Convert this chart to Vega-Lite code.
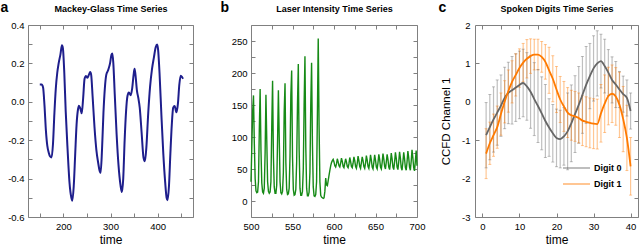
{
  "$schema": "https://vega.github.io/schema/vega-lite/v6.json",
  "autosize": {"type": "pad"},
  "padding": 0,
  "background": "white",
  "spacing": 58,
  "bounds": "flush",
  "config": {
    "font": "Liberation Sans",
    "view": {"stroke": null},
    "axis": {"grid": false, "domain": true, "domainColor": "#808080", "domainWidth": 1, "ticks": true, "tickSize": -4, "tickColor": "#808080", "tickWidth": 1,
      "labelOverlap": false, "labelFlush": false, "labelBound": false,
      "labelFont": "Liberation Sans", "labelFontSize": 9.5, "labelColor": "black",
      "titleFont": "Liberation Sans", "titleFontSize": 12, "titleFontWeight": "normal", "titleColor": "black"},
    "axisBottom": {"labelPadding": 8.5, "titleBaseline": "bottom", "titleY": 29.5},
    "axisLeft": {"labelPadding": 8},
    "axisTop": {"titleFontSize": 9, "titleFontWeight": "bold", "titleBaseline": "alphabetic", "titleY": -14, "titleAlign": "center"},
    "axisRight": {"titleFontSize": 14, "titleFontWeight": "bold", "titleAngle": 0, "titleAlign": "left", "titleBaseline": "top", "titleY": -25}
  },
  "datasets": {
    "mg": [
      {"t":150,"v":0.09},{"t":154,"v":0.09},{"t":157,"v":0.075},{"t":160,"v":-0.02},{"t":163,"v":-0.15},{"t":166,"v":-0.23},{"t":169,"v":-0.265},{"t":172,"v":-0.285},{"t":175,"v":-0.29},{"t":178,"v":-0.22},{"t":181,"v":-0.06},{"t":184,"v":0.07},{"t":187,"v":0.15},{"t":190,"v":0.2},{"t":194,"v":0.25},{"t":197,"v":0.295},{"t":199,"v":0.28},{"t":202,"v":0.15},{"t":205,"v":-0.05},{"t":209,"v":-0.25},{"t":213,"v":-0.42},{"t":217,"v":-0.5},{"t":219,"v":-0.515},{"t":222,"v":-0.44},{"t":225,"v":-0.28},{"t":228,"v":-0.12},{"t":231,"v":-0.04},{"t":233,"v":-0.02},{"t":236,"v":-0.035},{"t":239,"v":-0.06},{"t":242,"v":0.02},{"t":245,"v":0.12},{"t":248,"v":0.135},{"t":251,"v":0.125},{"t":254,"v":0.14},{"t":257,"v":0.155},{"t":259,"v":0.14},{"t":262,"v":0.03},{"t":266,"v":-0.13},{"t":270,"v":-0.25},{"t":274,"v":-0.32},{"t":277,"v":-0.36},{"t":279,"v":-0.37},{"t":282,"v":-0.25},{"t":285,"v":-0.06},{"t":288,"v":0.07},{"t":291,"v":0.14},{"t":295,"v":0.165},{"t":299,"v":0.2},{"t":302,"v":0.245},{"t":304,"v":0.252},{"t":306,"v":0.2},{"t":309,"v":0.04},{"t":313,"v":-0.17},{"t":317,"v":-0.33},{"t":321,"v":-0.43},{"t":324,"v":-0.47},{"t":327,"v":-0.4},{"t":330,"v":-0.2},{"t":333,"v":-0.05},{"t":336,"v":0.03},{"t":339,"v":0.048},{"t":343,"v":0.034},{"t":346,"v":0.07},{"t":349,"v":0.14},{"t":351,"v":0.172},{"t":353,"v":0.14},{"t":356,"v":0.06},{"t":359,"v":0.02},{"t":362,"v":-0.03},{"t":366,"v":-0.16},{"t":370,"v":-0.29},{"t":373,"v":-0.31},{"t":376,"v":-0.24},{"t":380,"v":-0.06},{"t":384,"v":0.08},{"t":388,"v":0.17},{"t":392,"v":0.23},{"t":396,"v":0.285},{"t":399,"v":0.298},{"t":401,"v":0.27},{"t":404,"v":0.15},{"t":408,"v":-0.07},{"t":412,"v":-0.27},{"t":416,"v":-0.42},{"t":419,"v":-0.5},{"t":421,"v":-0.513},{"t":424,"v":-0.44},{"t":427,"v":-0.27},{"t":430,"v":-0.12},{"t":433,"v":-0.03},{"t":436,"v":-0.022},{"t":440,"v":-0.055},{"t":443,"v":-0.01},{"t":446,"v":0.09},{"t":449,"v":0.136},{"t":452,"v":0.128},{"t":454,"v":0.12}
    ],
    "laser": [
      {"t":500,"v":30},{"t":501,"v":85},{"t":502,"v":140},{"t":503,"v":165},{"t":504,"v":90},{"t":505,"v":35},{"t":506,"v":16},{"t":507,"v":13},{"t":508,"v":14},{"t":509,"v":30},
      {"t":510,"v":110},{"t":511,"v":175},{"t":512,"v":80},{"t":513,"v":28},{"t":514,"v":14},{"t":515,"v":12},{"t":516,"v":20},{"t":517,"v":75},{"t":518,"v":166},{"t":519,"v":95},
      {"t":520,"v":30},{"t":521,"v":15},{"t":522,"v":12},{"t":523,"v":14},{"t":524,"v":30},{"t":525,"v":115},{"t":526,"v":188},{"t":527,"v":70},{"t":528,"v":22},{"t":529,"v":12},
      {"t":530,"v":12},{"t":531,"v":25},{"t":532,"v":95},{"t":533,"v":173},{"t":534,"v":100},{"t":535,"v":30},{"t":536,"v":13},{"t":537,"v":11},{"t":538,"v":15},{"t":539,"v":45},
      {"t":540,"v":140},{"t":541,"v":184},{"t":542,"v":60},{"t":543,"v":18},{"t":544,"v":10},{"t":545,"v":11},{"t":546,"v":20},{"t":547,"v":70},{"t":548,"v":165},{"t":549,"v":204},
      {"t":550,"v":70},{"t":551,"v":18},{"t":552,"v":9},{"t":553,"v":10},{"t":554,"v":18},{"t":555,"v":60},{"t":556,"v":150},{"t":557,"v":214},{"t":558,"v":80},{"t":559,"v":20},
      {"t":560,"v":9},{"t":561,"v":9},{"t":562,"v":15},{"t":563,"v":50},{"t":564,"v":150},{"t":565,"v":226},{"t":566,"v":85},{"t":567,"v":20},{"t":568,"v":8},{"t":569,"v":8},
      {"t":570,"v":14},{"t":571,"v":45},{"t":572,"v":150},{"t":573,"v":216},{"t":574,"v":90},{"t":575,"v":22},{"t":576,"v":8},{"t":577,"v":7},{"t":578,"v":10},{"t":579,"v":30},
      {"t":580,"v":135},{"t":581,"v":254},{"t":582,"v":120},{"t":583,"v":30},{"t":584,"v":9},{"t":585,"v":6},{"t":586,"v":5},{"t":587,"v":4},{"t":588,"v":5},{"t":589,"v":15},
      {"t":590,"v":36},{"t":591,"v":25},{"t":592,"v":24},{"t":593,"v":32},{"t":594,"v":40},{"t":595,"v":48},{"t":596,"v":55},{"t":597,"v":60},{"t":598,"v":63},{"t":599,"v":65},
      {"t":600,"v":61},{"t":601,"v":55},{"t":602,"v":53},{"t":603,"v":58},{"t":604,"v":66},{"t":605,"v":61},{"t":606,"v":55},{"t":607,"v":53},{"t":608,"v":59},{"t":609,"v":67},
      {"t":610,"v":62},{"t":611,"v":54},{"t":612,"v":52},{"t":613,"v":59},{"t":614,"v":66},{"t":615,"v":61},{"t":616,"v":54},{"t":617,"v":52},{"t":618,"v":58},{"t":619,"v":68},
      {"t":620,"v":62},{"t":621,"v":54},{"t":622,"v":52},{"t":623,"v":59},{"t":624,"v":69},{"t":625,"v":63},{"t":626,"v":54},{"t":627,"v":51},{"t":628,"v":59},{"t":629,"v":70},
      {"t":630,"v":63},{"t":631,"v":54},{"t":632,"v":51},{"t":633,"v":60},{"t":634,"v":69},{"t":635,"v":63},{"t":636,"v":54},{"t":637,"v":51},{"t":638,"v":59},{"t":639,"v":71},
      {"t":640,"v":64},{"t":641,"v":54},{"t":642,"v":51},{"t":643,"v":60},{"t":644,"v":72},{"t":645,"v":64},{"t":646,"v":53},{"t":647,"v":50},{"t":648,"v":60},{"t":649,"v":72},
      {"t":650,"v":64},{"t":651,"v":53},{"t":652,"v":50},{"t":653,"v":60},{"t":654,"v":73},{"t":655,"v":65},{"t":656,"v":53},{"t":657,"v":50},{"t":658,"v":60},{"t":659,"v":74},
      {"t":660,"v":66},{"t":661,"v":54},{"t":662,"v":50},{"t":663,"v":61},{"t":664,"v":73},{"t":665,"v":65},{"t":666,"v":53},{"t":667,"v":49},{"t":668,"v":60},{"t":669,"v":75},
      {"t":670,"v":66},{"t":671,"v":53},{"t":672,"v":49},{"t":673,"v":61},{"t":674,"v":76},{"t":675,"v":67},{"t":676,"v":53},{"t":677,"v":49},{"t":678,"v":61},{"t":679,"v":77},
      {"t":680,"v":67},{"t":681,"v":52},{"t":682,"v":48},{"t":683,"v":61},{"t":684,"v":76},{"t":685,"v":66},{"t":686,"v":52},{"t":687,"v":48},{"t":688,"v":61},{"t":689,"v":78},
      {"t":690,"v":68},{"t":691,"v":53},{"t":692,"v":48},{"t":693,"v":62},{"t":694,"v":80},{"t":695,"v":68},{"t":696,"v":52},{"t":697,"v":47},{"t":698,"v":62},{"t":699,"v":79},
      {"t":700,"v":55}
    ],
    "digits": [
      {"t":1,"digit":"Digit 0","mean":-0.87,"lo":-1.72,"hi":-0.02},{"t":2,"digit":"Digit 0","mean":-0.66,"lo":-1.51,"hi":0.19},{"t":3,"digit":"Digit 0","mean":-0.46,"lo":-1.31,"hi":0.39},{"t":4,"digit":"Digit 0","mean":-0.28,"lo":-1.13,"hi":0.57},{"t":5,"digit":"Digit 0","mean":-0.1,"lo":-0.9,"hi":0.7},
      {"t":6,"digit":"Digit 0","mean":0.1,"lo":-0.7,"hi":0.9},{"t":7,"digit":"Digit 0","mean":0.23,"lo":-0.57,"hi":1.03},{"t":8,"digit":"Digit 0","mean":0.3,"lo":-0.58,"hi":1.18},{"t":9,"digit":"Digit 0","mean":0.37,"lo":-0.51,"hi":1.25},{"t":10,"digit":"Digit 0","mean":0.44,"lo":-0.44,"hi":1.32},
      {"t":11,"digit":"Digit 0","mean":0.49,"lo":-0.39,"hi":1.37},{"t":12,"digit":"Digit 0","mean":0.4,"lo":-0.48,"hi":1.28},{"t":13,"digit":"Digit 0","mean":0.26,"lo":-0.69,"hi":1.21},{"t":14,"digit":"Digit 0","mean":0.07,"lo":-0.88,"hi":1.02},{"t":15,"digit":"Digit 0","mean":-0.11,"lo":-1.06,"hi":0.84},
      {"t":16,"digit":"Digit 0","mean":-0.3,"lo":-1.25,"hi":0.65},{"t":17,"digit":"Digit 0","mean":-0.5,"lo":-1.45,"hi":0.45},{"t":18,"digit":"Digit 0","mean":-0.67,"lo":-1.42,"hi":0.08},{"t":19,"digit":"Digit 0","mean":-0.82,"lo":-1.57,"hi":-0.07},{"t":20,"digit":"Digit 0","mean":-0.94,"lo":-1.69,"hi":-0.19},
      {"t":21,"digit":"Digit 0","mean":-0.97,"lo":-1.72,"hi":-0.22},{"t":22,"digit":"Digit 0","mean":-0.9,"lo":-1.65,"hi":-0.15},{"t":23,"digit":"Digit 0","mean":-0.77,"lo":-1.77,"hi":0.23},{"t":24,"digit":"Digit 0","mean":-0.56,"lo":-1.56,"hi":0.44},{"t":25,"digit":"Digit 0","mean":-0.32,"lo":-1.32,"hi":0.68},
      {"t":26,"digit":"Digit 0","mean":-0.08,"lo":-1.08,"hi":0.92},{"t":27,"digit":"Digit 0","mean":0.18,"lo":-0.82,"hi":1.18},{"t":28,"digit":"Digit 0","mean":0.44,"lo":-0.56,"hi":1.44},{"t":29,"digit":"Digit 0","mean":0.67,"lo":-0.18,"hi":1.52},{"t":30,"digit":"Digit 0","mean":0.87,"lo":0.02,"hi":1.72},
      {"t":31,"digit":"Digit 0","mean":1.0,"lo":0.15,"hi":1.85},{"t":32,"digit":"Digit 0","mean":1.06,"lo":0.36,"hi":1.76},{"t":33,"digit":"Digit 0","mean":0.93,"lo":0.23,"hi":1.63},{"t":34,"digit":"Digit 0","mean":0.76,"lo":0.16,"hi":1.36},{"t":35,"digit":"Digit 0","mean":0.57,"lo":-0.03,"hi":1.17},
      {"t":36,"digit":"Digit 0","mean":0.45,"lo":-0.15,"hi":1.05},{"t":37,"digit":"Digit 0","mean":0.32,"lo":-0.15,"hi":0.79},{"t":38,"digit":"Digit 0","mean":0.2,"lo":-0.27,"hi":0.67},{"t":39,"digit":"Digit 0","mean":0.1,"lo":-0.37,"hi":0.57},{"t":40,"digit":"Digit 0","mean":-0.24,"lo":-0.71,"hi":0.23},
      {"t":1,"digit":"Digit 1","mean":-1.35,"lo":-2.0,"hi":-0.7},{"t":2,"digit":"Digit 1","mean":-1.08,"lo":-1.63,"hi":-0.53},{"t":3,"digit":"Digit 1","mean":-0.87,"lo":-1.42,"hi":-0.32},{"t":4,"digit":"Digit 1","mean":-0.66,"lo":-1.21,"hi":-0.11},{"t":5,"digit":"Digit 1","mean":-0.32,"lo":-0.87,"hi":0.23},
      {"t":6,"digit":"Digit 1","mean":0.0,"lo":-0.55,"hi":0.55},{"t":7,"digit":"Digit 1","mean":0.28,"lo":-0.27,"hi":0.83},{"t":8,"digit":"Digit 1","mean":0.52,"lo":-0.03,"hi":1.07},{"t":9,"digit":"Digit 1","mean":0.7,"lo":0.15,"hi":1.25},{"t":10,"digit":"Digit 1","mean":0.88,"lo":0.38,"hi":1.38},
      {"t":11,"digit":"Digit 1","mean":1.02,"lo":0.52,"hi":1.52},{"t":12,"digit":"Digit 1","mean":1.12,"lo":0.62,"hi":1.62},{"t":13,"digit":"Digit 1","mean":1.19,"lo":0.74,"hi":1.64},{"t":14,"digit":"Digit 1","mean":1.23,"lo":0.83,"hi":1.63},{"t":15,"digit":"Digit 1","mean":1.23,"lo":0.83,"hi":1.63},
      {"t":16,"digit":"Digit 1","mean":1.17,"lo":0.77,"hi":1.57},{"t":17,"digit":"Digit 1","mean":1.04,"lo":0.59,"hi":1.49},{"t":18,"digit":"Digit 1","mean":0.82,"lo":0.22,"hi":1.42},{"t":19,"digit":"Digit 1","mean":0.6,"lo":0.0,"hi":1.2},{"t":20,"digit":"Digit 1","mean":0.32,"lo":-0.28,"hi":0.92},
      {"t":21,"digit":"Digit 1","mean":0.06,"lo":-0.54,"hi":0.66},{"t":22,"digit":"Digit 1","mean":-0.12,"lo":-0.77,"hi":0.53},{"t":23,"digit":"Digit 1","mean":-0.28,"lo":-0.93,"hi":0.37},{"t":24,"digit":"Digit 1","mean":-0.35,"lo":-1.0,"hi":0.3},{"t":25,"digit":"Digit 1","mean":-0.38,"lo":-1.03,"hi":0.27},
      {"t":26,"digit":"Digit 1","mean":-0.42,"lo":-1.07,"hi":0.23},{"t":27,"digit":"Digit 1","mean":-0.49,"lo":-1.14,"hi":0.16},{"t":28,"digit":"Digit 1","mean":-0.52,"lo":-1.17,"hi":0.13},{"t":29,"digit":"Digit 1","mean":-0.55,"lo":-1.2,"hi":0.1},{"t":30,"digit":"Digit 1","mean":-0.57,"lo":-1.22,"hi":0.08},
      {"t":31,"digit":"Digit 1","mean":-0.58,"lo":-1.23,"hi":0.07},{"t":32,"digit":"Digit 1","mean":-0.3,"lo":-1.05,"hi":0.45},{"t":33,"digit":"Digit 1","mean":-0.05,"lo":-0.8,"hi":0.7},{"t":34,"digit":"Digit 1","mean":0.15,"lo":-0.6,"hi":0.9},{"t":35,"digit":"Digit 1","mean":0.21,"lo":-0.54,"hi":0.96},
      {"t":36,"digit":"Digit 1","mean":0.14,"lo":-0.61,"hi":0.89},{"t":37,"digit":"Digit 1","mean":-0.08,"lo":-0.93,"hi":0.77},{"t":38,"digit":"Digit 1","mean":-0.45,"lo":-1.3,"hi":0.4},{"t":39,"digit":"Digit 1","mean":-0.94,"lo":-1.79,"hi":-0.09},{"t":40,"digit":"Digit 1","mean":-1.68,"lo":-2.43,"hi":-0.93}
    ]
  },
  "hconcat": [
    {
      "width": 165, "height": 192,
      "data": {"name": "mg"},
      "resolve": {"axis": {"x": "independent", "y": "independent"}},
      "layer": [
        {
          "mark": {"type": "line", "interpolate": "monotone", "color": "#1e1e8c", "strokeWidth": 2},
          "encoding": {
            "x": {"field": "t", "type": "quantitative", "scale": {"domain": [125, 475], "nice": false, "zero": false},
              "axis": {"values": [150, 200, 250, 300, 350, 400, 450], "labelExpr": "datum.value % 100 == 0 ? format(datum.value, 'd') : ''", "title": "time"}},
            "y": {"field": "v", "type": "quantitative", "scale": {"domain": [-0.6, 0.4], "nice": false, "zero": false},
              "axis": {"values": [-0.6, -0.5, -0.4, -0.3, -0.2, -0.1, 0, 0.1, 0.2, 0.3, 0.4], "labelExpr": "abs(round(datum.value * 10)) % 2 == 0 ? (datum.value < 0 ? '-' : '') + format(abs(datum.value), '.1f') : ''", "title": null}}
          }
        },
        {
          "mark": {"type": "line", "opacity": 0},
          "encoding": {
            "x": {"field": "t", "type": "quantitative", "axis": {"orient": "top", "values": [150, 200, 250, 300, 350, 400, 450], "labels": false, "title": "Mackey-Glass Time Series", "titleX": 82.5}},
            "y": {"field": "v", "type": "quantitative", "axis": {"orient": "right", "values": [-0.6, -0.5, -0.4, -0.3, -0.2, -0.1, 0, 0.1, 0.2, 0.3, 0.4], "labels": false, "title": "a", "titleX": -193}}
          }
        }
      ]
    },
    {
      "width": 166, "height": 192,
      "data": {"name": "laser"},
      "resolve": {"axis": {"x": "independent", "y": "independent"}},
      "layer": [
        {
          "mark": {"type": "line", "color": "#168a16", "strokeWidth": 1.4},
          "encoding": {
            "x": {"field": "t", "type": "quantitative", "scale": {"domain": [500, 700], "nice": false, "zero": false},
              "axis": {"values": [500, 525, 550, 575, 600, 625, 650, 675, 700], "labelExpr": "datum.value % 50 == 0 ? format(datum.value, 'd') : ''", "title": "time"}},
            "y": {"field": "v", "type": "quantitative", "scale": {"domain": [-25, 275], "nice": false, "zero": false},
              "axis": {"values": [0, 25, 50, 75, 100, 125, 150, 175, 200, 225, 250], "labelExpr": "datum.value % 50 == 0 ? format(datum.value, 'd') : ''", "title": null}}
          }
        },
        {
          "mark": {"type": "line", "opacity": 0},
          "encoding": {
            "x": {"field": "t", "type": "quantitative", "axis": {"orient": "top", "values": [500, 525, 550, 575, 600, 625, 650, 675, 700], "labels": false, "title": "Laser Intensity Time Series", "titleX": 83}},
            "y": {"field": "v", "type": "quantitative", "axis": {"orient": "right", "values": [0, 25, 50, 75, 100, 125, 150, 175, 200, 225, 250], "labels": false, "title": "b", "titleX": -197}}
          }
        }
      ]
    },
    {
      "width": 163, "height": 192,
      "data": {"name": "digits"},
      "resolve": {"axis": {"x": "independent", "y": "independent"}},
      "layer": [
        {
          "layer": [
            {
              "mark": {"type": "rule", "opacity": 0.42, "strokeWidth": 1.2},
              "encoding": {
                "x": {"field": "t", "type": "quantitative", "scale": {"domain": [-2, 42], "nice": false, "zero": false},
                  "axis": {"values": [0, 5, 10, 15, 20, 25, 30, 35, 40], "labelExpr": "datum.value % 10 == 0 ? format(datum.value, 'd') : ''", "title": "time"}},
                "y": {"field": "lo", "type": "quantitative", "scale": {"domain": [-3, 2], "nice": false, "zero": false},
                  "axis": {"values": [-3, -2.5, -2, -1.5, -1, -0.5, 0, 0.5, 1, 1.5, 2], "labels": false, "title": null}},
                "y2": {"field": "hi"},
                "color": {"field": "digit", "type": "nominal", "scale": {"domain": ["Digit 0", "Digit 1"], "range": ["#666666", "#ff7a00"]}}
              }
            },
            {
              "mark": {"type": "tick", "orient": "horizontal", "opacity": 0.42, "size": 3, "thickness": 1},
              "encoding": {
                "x": {"field": "t", "type": "quantitative"},
                "y": {"field": "lo", "type": "quantitative"},
                "color": {"field": "digit", "type": "nominal"}
              }
            },
            {
              "mark": {"type": "tick", "orient": "horizontal", "opacity": 0.42, "size": 3, "thickness": 1},
              "encoding": {
                "x": {"field": "t", "type": "quantitative"},
                "y": {"field": "hi", "type": "quantitative"},
                "color": {"field": "digit", "type": "nominal"}
              }
            },
            {
              "mark": {"type": "line", "interpolate": "monotone", "strokeWidth": 1.8},
              "encoding": {
                "x": {"field": "t", "type": "quantitative"},
                "y": {"field": "mean", "type": "quantitative"},
                "color": {"field": "digit", "type": "nominal",
                  "legend": {"orient": "none", "legendX": 552, "legendY": 137.5, "title": null, "padding": 0,
                    "symbolType": "M-5,0H1", "symbolSize": 81, "symbolStrokeWidth": 2,
                    "labelFont": "Liberation Sans", "labelFontSize": 9, "labelFontWeight": "bold", "labelColor": "black", "labelOffset": 3, "rowPadding": 5}}
              }
            }
          ]
        },
        {
          "mark": {"type": "line", "opacity": 0},
          "encoding": {
            "x": {"field": "t", "type": "quantitative", "axis": {"orient": "top", "values": [0, 5, 10, 15, 20, 25, 30, 35, 40], "labels": false, "title": "Spoken Digits Time Series", "titleX": 81.5}},
            "y": {"field": "mean", "type": "quantitative", "axis": {"orient": "right", "values": [-3, -2.5, -2, -1.5, -1, -0.5, 0, 0.5, 1, 1.5, 2], "labels": false, "title": "c", "titleX": -200}},
            "detail": {"field": "digit"}
          }
        },
        {
          "mark": {"type": "line", "opacity": 0},
          "encoding": {
            "x": {"field": "t", "type": "quantitative", "axis": null},
            "y": {"field": "mean", "type": "quantitative", "axis": {"orient": "left", "values": [-3, -2, -1, 0, 1, 2], "labelOverlap": false,
              "labelExpr": "(datum.value < 0 ? '-' : '') + format(abs(datum.value), 'd')", "labelPadding": 5, "domain": false, "ticks": false,
              "title": "CCFD Channel 1", "titleFontSize": 11.5, "titleX": -28.5, "titleY": 96, "titleAngle": 270, "titleBaseline": "middle", "titleAlign": "center"}},
            "detail": {"field": "digit"}
          }
        }
      ]
    }
  ]
}
